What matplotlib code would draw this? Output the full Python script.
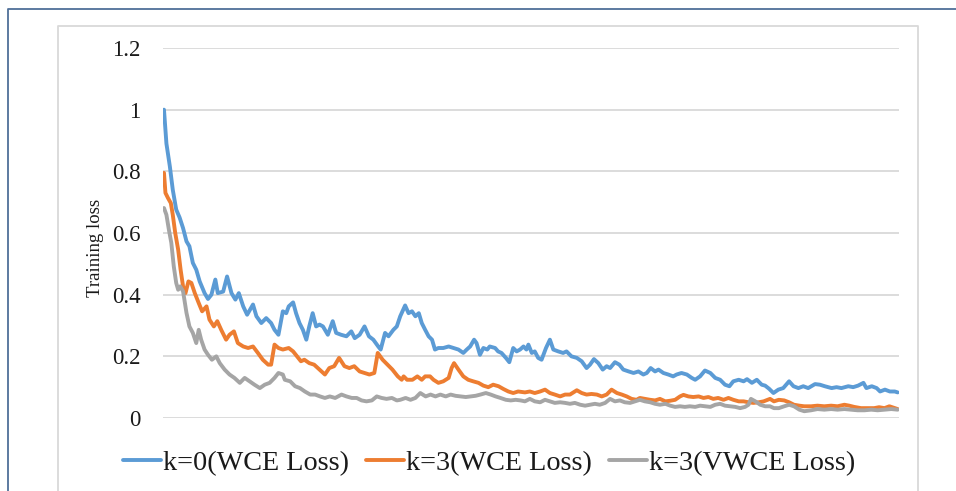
import matplotlib
matplotlib.use("Agg")
import matplotlib.pyplot as plt
from matplotlib.lines import Line2D

plt.rcParams['font.family'] = ['Liberation Serif', 'DejaVu Serif']

# ---------------- data ----------------
series_names = ["k=0(WCE Loss)", "k=3(WCE Loss)", "k=3(VWCE Loss)"]

step_k0_wce = [0, 5, 12, 18, 25, 32, 39, 46, 52, 59, 66, 73, 83, 90, 97, 105, 110, 121, 129, 138,
               146, 153, 162, 170, 182, 189, 199, 209, 219, 226, 234, 243, 250, 255, 264, 270, 277,
               284, 291, 297, 304, 311, 318, 325, 335, 345, 352, 362, 373, 383, 390, 400, 410, 419,
               428, 438, 443, 452, 459, 469, 476, 483, 493, 500, 507, 514, 521, 527, 534, 541, 548,
               554, 561, 571, 582, 592, 602, 612, 619, 626, 634, 639, 646, 653, 661, 666, 677, 683,
               690, 699, 706, 714, 721, 728, 735, 741, 745, 752, 758, 765, 772, 781, 789, 796, 806,
               816, 823, 833, 844, 854, 864, 871, 879, 888, 897, 905, 912, 922, 931, 939, 950, 960,
               970, 980, 987, 995, 1004, 1011, 1021, 1031, 1041, 1048, 1058, 1069, 1079, 1086, 1096,
               1106, 1117, 1127, 1137, 1147, 1156, 1164, 1175, 1185, 1192, 1202, 1212, 1222, 1229,
               1237, 1246, 1256, 1266, 1278, 1287, 1297, 1307, 1317, 1331, 1341, 1351, 1365, 1375,
               1385, 1399, 1409, 1419, 1430, 1436, 1447, 1457, 1464, 1474, 1484, 1494, 1500]
loss_k0_wce = [1.0, 0.89, 0.816, 0.74, 0.676, 0.65, 0.616, 0.573, 0.557, 0.503, 0.481, 0.443, 0.405,
               0.386, 0.40, 0.449, 0.405, 0.41, 0.459, 0.405, 0.384, 0.405, 0.362, 0.335, 0.368, 0.33,
               0.308, 0.324, 0.308, 0.286, 0.27, 0.346, 0.34, 0.362, 0.375, 0.34, 0.308, 0.286, 0.254,
               0.297, 0.34, 0.297, 0.303, 0.297, 0.27, 0.314, 0.276, 0.27, 0.265, 0.281, 0.259, 0.27,
               0.297, 0.265, 0.254, 0.232, 0.222, 0.276, 0.265, 0.286, 0.297, 0.33, 0.365, 0.34, 0.346,
               0.33, 0.34, 0.308, 0.286, 0.265, 0.254, 0.222, 0.227, 0.227, 0.232, 0.227, 0.222, 0.211,
               0.222, 0.232, 0.254, 0.243, 0.205, 0.227, 0.222, 0.232, 0.227, 0.216, 0.211, 0.195,
               0.181, 0.227, 0.216, 0.222, 0.232, 0.222, 0.238, 0.211, 0.216, 0.195, 0.189, 0.227,
               0.254, 0.222, 0.216, 0.211, 0.216, 0.2, 0.195, 0.184, 0.162, 0.173, 0.191, 0.178, 0.157,
               0.168, 0.162, 0.181, 0.173, 0.157, 0.151, 0.146, 0.151, 0.141, 0.146, 0.162, 0.151,
               0.157, 0.146, 0.141, 0.135, 0.141, 0.146, 0.141, 0.13, 0.124, 0.135, 0.154, 0.146, 0.13,
               0.124, 0.108, 0.103, 0.119, 0.124, 0.119, 0.126, 0.114, 0.124, 0.108, 0.105, 0.095,
               0.081, 0.092, 0.097, 0.119, 0.103, 0.097, 0.103, 0.097, 0.11, 0.108, 0.103, 0.097, 0.1,
               0.097, 0.103, 0.1, 0.105, 0.114, 0.097, 0.103, 0.097, 0.086, 0.092, 0.086, 0.086, 0.083]

step_k3_wce = [0, 3, 8, 14, 18, 23, 29, 34, 39, 44, 50, 56, 63, 71, 78, 87, 93, 102, 109, 117, 127,
               134, 143, 151, 162, 172, 182, 192, 202, 213, 219, 226, 234, 243, 255, 264, 272, 280,
               287, 297, 307, 318, 329, 338, 348, 358, 369, 379, 389, 400, 410, 420, 430, 437, 447,
               457, 467, 478, 486, 490, 497, 508, 518, 527, 534, 544, 551, 561, 571, 582, 588, 593,
               602, 612, 622, 632, 643, 653, 663, 673, 684, 694, 704, 714, 724, 738, 748, 758, 769,
               779, 789, 799, 810, 820, 830, 844, 854, 864, 874, 885, 895, 905, 915, 926, 936, 946,
               956, 966, 973, 983, 994, 1004, 1014, 1025, 1035, 1045, 1055, 1062, 1072, 1082, 1093,
               1103, 1113, 1123, 1133, 1144, 1154, 1164, 1175, 1185, 1195, 1205, 1216, 1226, 1239,
               1247, 1257, 1268, 1278, 1288, 1299, 1309, 1323, 1336, 1350, 1364, 1377, 1391, 1401,
               1411, 1425, 1439, 1452, 1462, 1473, 1483, 1494, 1500]
loss_k3_wce = [0.795, 0.73, 0.714, 0.697, 0.659, 0.6, 0.546, 0.481, 0.427, 0.405, 0.443, 0.438, 0.405,
               0.373, 0.346, 0.362, 0.319, 0.297, 0.314, 0.286, 0.254, 0.27, 0.281, 0.243, 0.232,
               0.227, 0.232, 0.211, 0.189, 0.173, 0.173, 0.238, 0.227, 0.222, 0.227, 0.216, 0.2, 0.184,
               0.189, 0.178, 0.173, 0.157, 0.141, 0.162, 0.168, 0.195, 0.168, 0.162, 0.168, 0.151,
               0.146, 0.141, 0.146, 0.211, 0.189, 0.173, 0.157, 0.135, 0.124, 0.135, 0.124, 0.124,
               0.135, 0.124, 0.135, 0.135, 0.124, 0.114, 0.119, 0.13, 0.162, 0.178, 0.157, 0.135,
               0.124, 0.119, 0.114, 0.105, 0.1, 0.108, 0.103, 0.094, 0.086, 0.081, 0.086, 0.083, 0.086,
               0.081, 0.086, 0.092, 0.081, 0.076, 0.07, 0.076, 0.076, 0.09, 0.081, 0.076, 0.078, 0.076,
               0.07, 0.076, 0.092, 0.081, 0.076, 0.07, 0.062, 0.059, 0.065, 0.062, 0.059, 0.057, 0.062,
               0.054, 0.056, 0.059, 0.07, 0.075, 0.07, 0.068, 0.07, 0.065, 0.068, 0.062, 0.065, 0.059,
               0.065, 0.059, 0.054, 0.054, 0.051, 0.049, 0.051, 0.054, 0.062, 0.054, 0.059, 0.057,
               0.051, 0.043, 0.04, 0.038, 0.038, 0.04, 0.038, 0.04, 0.038, 0.043, 0.04, 0.036, 0.032,
               0.032, 0.032, 0.035, 0.032, 0.038, 0.032, 0.029]

step_k3_vwce = [0, 5, 10, 15, 20, 25, 29, 33, 39, 46, 52, 59, 66, 71, 76, 83, 90, 98, 107, 114, 124,
                134, 144, 155, 165, 175, 185, 196, 206, 216, 226, 234, 243, 247, 258, 268, 278, 288,
                299, 309, 319, 329, 339, 350, 363, 373, 384, 394, 404, 414, 425, 435, 445, 455, 466,
                476, 483, 494, 504, 514, 524, 535, 545, 555, 565, 576, 586, 596, 606, 617, 627, 637,
                647, 658, 668, 678, 688, 699, 709, 719, 729, 738, 748, 758, 769, 779, 789, 799, 810,
                820, 830, 840, 851, 861, 871, 881, 891, 902, 912, 922, 932, 942, 953, 963, 973, 983,
                994, 1004, 1014, 1025, 1035, 1045, 1055, 1065, 1075, 1086, 1096, 1106, 1117, 1127,
                1137, 1147, 1157, 1168, 1178, 1188, 1195, 1200, 1209, 1219, 1229, 1239, 1247, 1257,
                1268, 1278, 1288, 1299, 1309, 1323, 1336, 1350, 1364, 1377, 1391, 1405, 1418, 1432,
                1446, 1459, 1473, 1487, 1500]
loss_k3_vwce = [0.681, 0.659, 0.611, 0.568, 0.492, 0.438, 0.416, 0.427, 0.411, 0.341, 0.297, 0.276,
                0.243, 0.286, 0.254, 0.222, 0.205, 0.189, 0.2, 0.178, 0.157, 0.141, 0.13, 0.114, 0.13,
                0.119, 0.108, 0.097, 0.108, 0.114, 0.13, 0.146, 0.141, 0.124, 0.119, 0.103, 0.097,
                0.086, 0.076, 0.076, 0.07, 0.065, 0.07, 0.065, 0.076, 0.07, 0.065, 0.065, 0.057, 0.054,
                0.057, 0.07, 0.065, 0.062, 0.065, 0.057, 0.059, 0.065, 0.059, 0.065, 0.081, 0.07, 0.076,
                0.07, 0.076, 0.07, 0.076, 0.072, 0.07, 0.068, 0.07, 0.072, 0.076, 0.081, 0.076, 0.07,
                0.065, 0.059, 0.057, 0.059, 0.057, 0.054, 0.062, 0.054, 0.051, 0.059, 0.054, 0.049,
                0.051, 0.049, 0.046, 0.049, 0.043, 0.04, 0.043, 0.046, 0.043, 0.049, 0.062, 0.054,
                0.057, 0.051, 0.049, 0.054, 0.059, 0.054, 0.051, 0.046, 0.043, 0.046, 0.04, 0.036,
                0.038, 0.036, 0.038, 0.036, 0.04, 0.038, 0.036, 0.043, 0.046, 0.04, 0.038, 0.036, 0.032,
                0.036, 0.043, 0.062, 0.054, 0.043, 0.038, 0.038, 0.032, 0.032, 0.038, 0.043, 0.038,
                0.027, 0.022, 0.025, 0.029, 0.027, 0.029, 0.027, 0.029, 0.027, 0.025, 0.025, 0.027,
                0.025, 0.027, 0.029, 0.027]

y_ticks = [0, 0.2, 0.4, 0.6, 0.8, 1.0, 1.2]
y_tick_labels = ["0", "0.2", "0.4", "0.6", "0.8", "1", "1.2"]
y_label = "Training loss"

colors = ["#5b9bd5", "#ed7d31", "#a5a5a5"]

# ---------------- figure ----------------
W, H = 956, 491
fig = plt.figure(figsize=(W / 100, H / 100), dpi=100)
fig.patch.set_facecolor("white")

# outer (blue) border and inner (gray) chart frame
fig.add_artist(Line2D([8 / W, 8 / W, 1.0], [0.0, 1 - 9 / H, 1 - 9 / H],
                      transform=fig.transFigure, color="#4f7099", lw=1.3))
fig.add_artist(Line2D([58 / W, 58 / W, 918 / W, 918 / W], [0.0, 1 - 26 / H, 1 - 26 / H, 0.0],
                      transform=fig.transFigure, color="#d9d9d9", lw=1.3))

ax = fig.add_axes([163 / W, 1 - 418 / H, 736 / W, 370 / H])
ax.set_facecolor("none")

series = [(step_k0_wce, loss_k0_wce), (step_k3_wce, loss_k3_wce), (step_k3_vwce, loss_k3_vwce)]
for (xs, ys), c, name in zip(series, colors, series_names):
    ax.plot(xs, ys, color=c, lw=2.8, solid_joinstyle="round", solid_capstyle="round", label=name)

ax.set_ylim(0, 1.2)
ax.set_xlim(-2, 1502.7)
ax.set_yticks(y_ticks)
ax.set_yticklabels(y_tick_labels)
ax.set_xticks([])
ax.grid(axis="y", color="#d9d9d9", lw=1.3)
ax.set_axisbelow(True)
for s in ax.spines.values():
    s.set_visible(False)
ax.tick_params(axis="y", length=0, pad=16, labelsize=16.5, labelcolor="#1a1a1a")

fig.text(95 / W, 1 - 248 / H, y_label, rotation=90, ha="center", va="center",
         fontsize=13.5, color="#1a1a1a")

leg = fig.legend(loc="center", bbox_to_anchor=(489 / W, 1 - 463 / H), ncol=3, frameon=False,
                 fontsize=20.3, handlelength=1.35, handletextpad=0.05, columnspacing=0.62,
                 borderpad=0, labelcolor="#1a1a1a")

fig.savefig("out.png", dpi=100, facecolor="white")
